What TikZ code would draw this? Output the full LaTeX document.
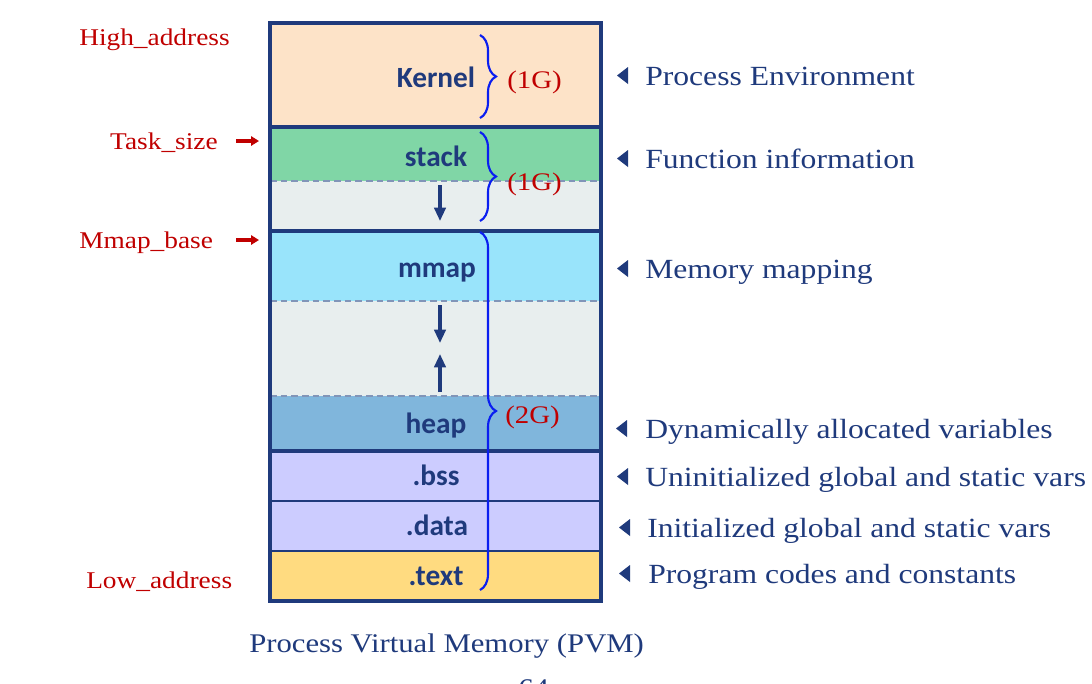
\documentclass[tikz,border=0pt]{standalone}
\usepackage{fontspec}
\setmainfont{Liberation Serif}[FakeStretch=1.14]
\newfontfamily\sansfam{Carlito}
\usetikzlibrary{decorations.pathreplacing,arrows.meta}
\definecolor{navy}{HTML}{1F3A7C}
\definecolor{darkred}{HTML}{C00000}
\definecolor{kernelc}{HTML}{FDE3C8}
\definecolor{stackc}{HTML}{80D6A6}
\definecolor{gapc}{HTML}{E8EEEE}
\definecolor{mmapc}{HTML}{99E4FB}
\definecolor{heapc}{HTML}{80B6DC}
\definecolor{bssc}{HTML}{CCCCFF}
\definecolor{textc}{HTML}{FFDB80}
\definecolor{dashc}{HTML}{8195B8}
\definecolor{bracec}{HTML}{0A1EF0}
\newcommand\descfont{\fontsize{20.8}{25}\selectfont}
\newcommand\addrfont{\fontsize{18}{22}\selectfont}
\newcommand\gfont{\fontsize{19}{23}\selectfont}
\newcommand\capfont{\fontsize{20.2}{24}\selectfont}
\newcommand\segfont{\sansfam\bfseries\fontsize{22}{26}\selectfont}
\newcommand\mytri[2]{\fill[navy] (#1+11,#2-8.5) -- (#1+11,#2+8.5) -- (#1,#2) -- cycle;}
\begin{document}
\begin{tikzpicture}[x=0.75pt,y=-0.75pt,
  seglabel/.style={font=\segfont, text=navy, anchor=base, inner sep=0pt},
  desc/.style={font=\descfont, text=navy, anchor=base west, inner sep=0pt},
  addr/.style={font=\addrfont, text=darkred, inner sep=0pt},
  gsize/.style={font=\gfont, text=darkred, anchor=base west, inner sep=0pt},
  ptr/.style={-{Triangle[length=10pt,width=8.5pt]}, line width=2.3pt, navy},
  redptr/.style={-{Triangle[length=6pt,width=7pt]}, line width=2.4pt, darkred},
  brc/.style={decorate, decoration={brace, amplitude=12pt}, bracec, line width=1.6pt},
  thick line/.style={navy, line width=2.4pt},
  thin line/.style={navy, line width=1.2pt},
  dash line/.style={dashc, line width=1.1pt, dash pattern=on 5pt off 3pt},
]
\useasboundingbox (0,0) rectangle (1092,683);
\fill[white] (0,0) rectangle (1092,683);
% segments
\fill[kernelc] (270,23) rectangle (601,127);
\fill[stackc] (270,127) rectangle (601,181);
\fill[gapc] (270,181) rectangle (601,231);
\fill[mmapc] (270,231) rectangle (601,301);
\fill[gapc] (270,301) rectangle (601,396);
\fill[heapc] (270,396) rectangle (601,451);
\fill[bssc] (270,451) rectangle (601,551);
\fill[textc] (270,551) rectangle (601,601);
% separators
\draw[dash line] (270,181) -- (601,181);
\draw[dash line] (270,301) -- (601,301);
\draw[dash line] (270,396) -- (601,396);
\draw[thin line] (270,501) -- (601,501);
\draw[thin line] (270,551) -- (601,551);
\draw[thick line] (270,127) -- (601,127);
\draw[thick line] (270,231) -- (601,231);
\draw[thick line] (270,451) -- (601,451);
\draw[navy, line width=2.4pt] (270,23) rectangle (601,601);
% segment labels
\node[seglabel] (kernel) at (436,87) {Kernel};
\node[seglabel] (stack) at (436,166) {stack};
\node[seglabel] (mmap) at (437,277) {mmap};
\node[seglabel] (heap) at (436,433) {heap};
\node[seglabel] (bss) at (436,485) {.bss};
\node[seglabel] (data) at (437,535) {.data};
\node[seglabel] (text) at (436,585) {.text};
% growth arrows
\coordinate (s1) at (440,185); \coordinate (s2) at (440,221);
\coordinate (m1) at (440,305); \coordinate (m2) at (440,343);
\coordinate (h1) at (440,392); \coordinate (h2) at (440,354);
\draw[ptr] (s1) -- (s2);
\draw[ptr] (m1) -- (m2);
\draw[ptr] (h1) -- (h2);
% braces
\coordinate (b1a) at (480,35); \coordinate (b1b) at (480,118);
\coordinate (b2a) at (480,132); \coordinate (b2b) at (480,221);
\coordinate (b3a) at (480,232); \coordinate (b3b) at (480,590);
\draw[brc] (b1a) -- (b1b);
\draw[brc] (b2a) -- (b2b);
\draw[brc] (b3a) -- (b3b);
\node[gsize] (g1) at (507,88) {(1G)};
\node[gsize] (g2) at (507,190) {(1G)};
\node[gsize] (g3) at (505,423) {(2G)};
% left address labels
\node[addr, anchor=base west] (high) at (79,45) {High\_address};
\node[addr, anchor=base east] (task) at (218,149) {Task\_size};
\node[addr, anchor=base west] (mmapbase) at (79,248) {Mmap\_base};
\node[addr, anchor=base west] (low) at (86,588) {Low\_address};
\coordinate (ta) at (236,141); \coordinate (tb) at (259,141);
\coordinate (ma) at (236,240); \coordinate (mb) at (259,240);
\draw[redptr] (ta) -- (tb);
\draw[redptr] (ma) -- (mb);
% right descriptions
\mytri{617}{75.5}
\mytri{617}{158.5}
\mytri{617}{268.5}
\mytri{616}{428.5}
\mytri{617}{476.5}
\mytri{619}{527.5}
\mytri{619}{573.5}
\node[desc] (d1) at (645,85) {Process Environment};
\node[desc] (d2) at (645,168) {Function information};
\node[desc] (d3) at (645,278) {Memory mapping};
\node[desc] (d4) at (645,438) {Dynamically allocated variables};
\node[desc] (d5) at (645,486) {Uninitialized global and static vars};
\node[desc] (d6) at (647,537) {Initialized global and static vars};
\node[desc] (d7) at (648,583) {Program codes and constants};
% caption
\node[desc, font=\capfont] (caption) at (249,652) {Process Virtual Memory (PVM)};
\node[desc, font=\capfont] (page) at (518,697) {64};
\end{tikzpicture}
\end{document}
